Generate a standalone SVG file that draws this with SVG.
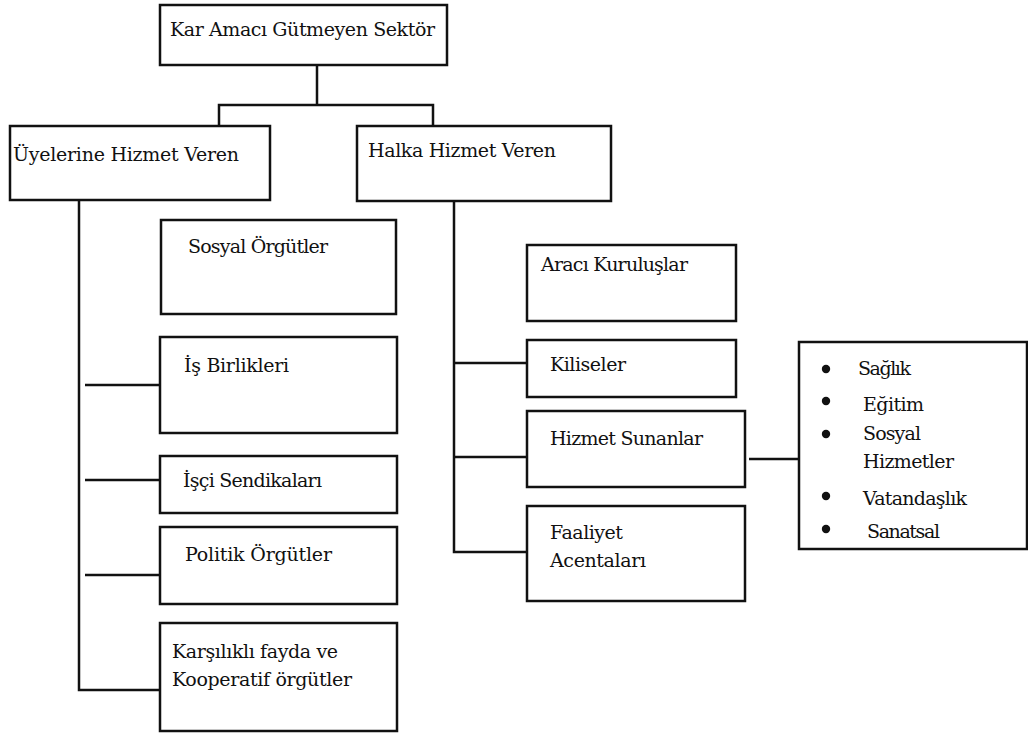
<svg xmlns="http://www.w3.org/2000/svg" width="1028" height="733" viewBox="0 0 1028 733">
<style>
.box{fill:#fff;stroke:#111;stroke-width:2.5}
.ln{fill:none;stroke:#111;stroke-width:2.5}
.t{font-size:19px;fill:#111}
.dot{fill:#111}
</style>
<rect x="0" y="0" width="1028" height="733" fill="#fff"/>
<g id="connectors">
<path class="ln" d="M317 65V105M219 126V105H433V126"/>
<path class="ln" d="M79 200V690H160M85 385H160M85 480H160M85 575H160"/>
<path class="ln" d="M454 201V552H527M454 363H527M454 457H527M749 459H799"/>
</g>
<g class="t" font-family="DejaVu Serif, Liberation Serif, serif">
<g id="n-root"><rect class="box" x="160" y="5" width="287" height="60"/><text x="170" y="36" textLength="265">Kar Amacı Gütmeyen Sektör</text></g>
<g id="n-uyelerine"><rect class="box" x="10" y="126" width="260" height="74"/><text x="13" y="161" textLength="226">Üyelerine Hizmet Veren</text></g>
<g id="n-halka"><rect class="box" x="357" y="126" width="254" height="75"/><text x="368" y="157" textLength="188">Halka Hizmet Veren</text></g>
<g id="n-sosyal"><rect class="box" x="161" y="220" width="235" height="94"/><text x="188" y="253" textLength="140">Sosyal Örgütler</text></g>
<g id="n-is"><rect class="box" x="160" y="337" width="237" height="96"/><text x="184" y="372" textLength="105">İş Birlikleri</text></g>
<g id="n-isci"><rect class="box" x="160" y="456" width="237" height="57"/><text x="183" y="487" textLength="139">İşçi Sendikaları</text></g>
<g id="n-politik"><rect class="box" x="160" y="527" width="237" height="77"/><text x="185" y="561" textLength="147">Politik Örgütler</text></g>
<g id="n-karsilikli"><rect class="box" x="160" y="623" width="237" height="108"/><text x="172" y="658" textLength="166">Karşılıklı fayda ve</text><text x="172" y="686" textLength="180">Kooperatif örgütler</text></g>
<g id="n-araci"><rect class="box" x="527" y="245" width="209" height="76"/><text x="541" y="271" textLength="147">Aracı Kuruluşlar</text></g>
<g id="n-kiliseler"><rect class="box" x="527" y="340" width="209" height="57"/><text x="550" y="371" textLength="76">Kiliseler</text></g>
<g id="n-hizmet"><rect class="box" x="527" y="411" width="218" height="76"/><text x="550" y="445" textLength="153">Hizmet Sunanlar</text></g>
<g id="n-faaliyet"><rect class="box" x="527" y="506" width="218" height="95"/><text x="550" y="539" textLength="73">Faaliyet</text><text x="550" y="567" textLength="96">Acentaları</text></g>
<g id="n-list"><rect class="box" x="799" y="342" width="228" height="207"/>
<circle class="dot" cx="826" cy="369" r="4.2"/><text x="858" y="375" textLength="53">Sağlık</text>
<circle class="dot" cx="826" cy="401" r="4.2"/><text x="863" y="411" textLength="61">Eğitim</text>
<circle class="dot" cx="826" cy="434" r="4.2"/><text x="863" y="440" textLength="58">Sosyal</text>
<text x="863" y="468" textLength="91">Hizmetler</text>
<circle class="dot" cx="826" cy="496" r="4.2"/><text x="863" y="505" textLength="104">Vatandaşlık</text>
<circle class="dot" cx="826" cy="529" r="4.2"/><text x="867" y="538" textLength="73">Sanatsal</text>
</g>
</g>
</svg>
